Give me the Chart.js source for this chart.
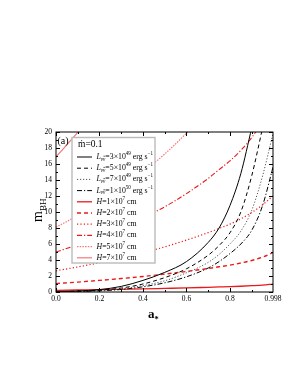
<!DOCTYPE html>
<html><head><meta charset="utf-8">
<script src="https://cdn.jsdelivr.net/npm/chart.js@4"></script>
<style>html,body{margin:0;padding:0;background:#fff}#wrap{width:298px;height:385px;position:relative}</style>
</head><body><div id="wrap"><canvas id="c" width="298" height="385"></canvas></div>
<script>
// ---- data ----
const spin = [0, 0.1, 0.2, 0.3, 0.4, 0.5, 0.6, 0.7, 0.75, 0.8, 0.85, 0.9, 0.95, 0.998];
const L3e49 = [0.05, 0.12, 0.3, 0.7, 1.45, 2.45, 3.8, 6.2, 8.0, 10.8, 14.8, 20.5, null, null];
const L5e49 = [0.04, 0.1, 0.22, 0.5, 1.0, 1.8, 2.9, 4.6, 5.8, 7.4, 10.0, 14.5, 20.5, null];
const L7e49 = [0.03, 0.08, 0.18, 0.4, 0.8, 1.4, 2.4, 3.7, 4.7, 6.0, 7.6, 10.2, 14.5, 19.8];
const L1e50 = [0.02, 0.06, 0.14, 0.32, 0.65, 1.15, 1.9, 3.0, 3.8, 4.8, 6.0, 7.7, 10.8, 15.6];
const H1e7 = [0.21, 0.25, 0.29, 0.34, 0.39, 0.45, 0.51, 0.59, 0.63, 0.67, 0.72, 0.79, 0.87, 0.99];
const H2e7 = [1.05, 1.24, 1.45, 1.68, 1.94, 2.24, 2.57, 2.94, 3.15, 3.36, 3.62, 3.94, 4.36, 4.93];
const H3e7 = [2.65, 3.13, 3.66, 4.24, 4.9, 5.64, 6.49, 7.42, 7.95, 8.48, 9.14, 9.94, 10.9, 12.0];
const H4e7 = [5.0, 5.9, 6.9, 8.0, 9.25, 10.65, 12.3, 14.2, 15.3, 16.4, 17.7, 19.3, 21.3, null];
const H5e7 = [8.1, 9.56, 11.18, 12.96, 14.99, 17.25, 19.85, 22.7, null, null, null, null, null, null];
const H7e7 = [16.9, 19.94, 23.3, null, null, null, null, null, null, null, null, null, null, null];
const xTicks = [0, 0.2, 0.4, 0.6, 0.8, 0.998];
const xTickLabels = ['0.0', '0.2', '0.4', '0.6', '0.8', '0.998'];
const yTicks = [0, 2, 4, 6, 8, 10, 12, 14, 16, 18, 20];
const mdotLabel = 'ṁ=0.1';
const panelLabel = '(a)';

const RED = 'rgb(235,25,25)';
const PINK = 'rgb(245,120,120)';
const series = [
  {v: L3e49, c: '#000', d: [], w: 1, lab: ['3', '49']},
  {v: L5e49, c: '#000', d: [4, 3], w: 1, lab: ['5', '49']},
  {v: L7e49, c: '#555', d: [1.2, 1.8], w: 1, lab: ['7', '49']},
  {v: L1e50, c: '#000', d: [5, 2, 1.2, 2], w: 1, lab: ['1', '50']},
  {v: H1e7, c: RED, d: [], w: 1.3, lab: ['1', '7'], H: true},
  {v: H2e7, c: RED, d: [4, 3], w: 1.4, lab: ['2', '7'], H: true},
  {v: H3e7, c: RED, d: [1.2, 2.2], w: 1.2, lab: ['3', '7'], H: true},
  {v: H4e7, c: RED, d: [5, 2, 1.2, 2], w: 1.1, lab: ['4', '7'], H: true},
  {v: H5e7, c: PINK, d: [1.5, 1.2], w: 1.2, lab: ['5', '7'], H: true},
  {v: H7e7, c: PINK, d: [], w: 1.2, lab: ['7', '7'], H: true}
];

const SERIF = '"Liberation Serif", "DejaVu Serif", serif';

function drawRich(ctx, x, y, parts, base) {
  let cx = x;
  for (const p of parts) {
    const sz = p.s ? base * 0.65 : base;
    ctx.font = (p.i ? 'italic ' : '') + (p.b ? 'bold ' : '') + sz + 'px ' + SERIF;
    const dy = p.s === 'sub' ? base * 0.3 : p.s === 'sup' ? -base * 0.42 : 0;
    ctx.fillText(p.t, cx, y + dy);
    const w = ctx.measureText(p.t).width;
    if (p.ov) {
      const wl = ctx.measureText(p.t.slice(-1)).width;
      ctx.save();
      ctx.lineWidth = 0.6;
      ctx.strokeStyle = ctx.fillStyle;
      ctx.beginPath();
      ctx.moveTo(cx + w - wl + 0.3, y + dy - sz * 0.62);
      ctx.lineTo(cx + w - 0.2, y + dy - sz * 0.62);
      ctx.stroke();
      ctx.restore();
    }
    cx += w;
  }
  return cx - x;
}

const decor = {
  id: 'decor',
  afterDatasetsDraw(chart) {
    const ctx = chart.ctx;
    const a = chart.chartArea;
    const xs = chart.scales.x, ys = chart.scales.y;
    ctx.save();
    // legend box
    const bx = 72, by = 137.5, bw = 83, bh = 125.5;
    ctx.fillStyle = '#fff';
    ctx.fillRect(bx, by, bw, bh);
    ctx.strokeStyle = '#bbb';
    ctx.lineWidth = 1.4;
    ctx.setLineDash([]);
    ctx.strokeRect(bx, by, bw, bh);
    ctx.fillStyle = '#000';
    ctx.textBaseline = 'middle';
    ctx.textAlign = 'left';
    ctx.font = '9.5px ' + SERIF;
    ctx.fillText(mdotLabel, 78, 144.5);
    series.forEach((s, i) => {
      const yc = 157 + i * 11.2;
      ctx.strokeStyle = s.c;
      ctx.lineWidth = s.w;
      ctx.setLineDash(s.d);
      ctx.beginPath();
      ctx.moveTo(77, yc);
      ctx.lineTo(92, yc);
      ctx.stroke();
      ctx.setLineDash([]);
      ctx.fillStyle = '#000';
      let parts;
      if (s.H) {
        parts = [{t: 'H', i: 1}, {t: '=' + s.lab[0] + '×10'}, {t: s.lab[1], s: 'sup'}, {t: ' cm'}];
      } else {
        parts = [{t: 'L', i: 1}, {t: 'νν', s: 'sub', i: 1, ov: 1}, {t: '=' + s.lab[0] + '×10'}, {t: s.lab[1], s: 'sup'}, {t: ' erg s'}, {t: '−1', s: 'sup'}];
      }
      drawRich(ctx, 96.5, yc, parts, 7.8);
    });
    // frame
    ctx.strokeStyle = '#000';
    ctx.lineWidth = 1;
    ctx.setLineDash([]);
    ctx.strokeRect(a.left, a.top, a.right - a.left, a.bottom - a.top);
    // ticks (inward)
    ctx.beginPath();
    for (let v = 0; v <= 20; v += 1) {
      const py = Math.round(ys.getPixelForValue(v)) + 0.5;
      const len = v % 2 === 0 ? 4 : 2;
      ctx.moveTo(a.left, py); ctx.lineTo(a.left + len, py);
      ctx.moveTo(a.right, py); ctx.lineTo(a.right - len, py);
    }
    for (let k = 0; k <= 9; k++) {
      const v = k / 10;
      const px = Math.round(xs.getPixelForValue(v)) + 0.5;
      const len = k % 2 === 0 ? 4 : 2;
      ctx.moveTo(px, a.bottom); ctx.lineTo(px, a.bottom - len);
      ctx.moveTo(px, a.top); ctx.lineTo(px, a.top + len);
    }
    ctx.stroke();
    // panel label
    ctx.fillStyle = '#000';
    ctx.font = '10px ' + SERIF;
    ctx.textBaseline = 'middle';
    ctx.fillText(panelLabel, 57.5, 141);
    // axis titles
    ctx.textBaseline = 'alphabetic';
    drawRich(ctx, 148, 318, [{t: 'a', b: 1}, {t: '*', s: 'sub', b: 1}], 13);
    ctx.save();
    ctx.translate(41.5, 222);
    ctx.rotate(-Math.PI / 2);
    drawRich(ctx, 0, 0, [{t: 'm'}, {t: 'BH', s: 'sub'}], 14);
    ctx.restore();
    ctx.restore();
  }
};

const datasets = series.map(s => ({
  data: spin.map((a, i) => ({x: a, y: s.v[i]})),
  borderColor: s.c,
  borderWidth: s.w,
  borderDash: s.d,
  pointRadius: 0,
  fill: false,
  cubicInterpolationMode: 'monotone',
  spanGaps: false
}));

new Chart(document.getElementById('c'), {
  type: 'line',
  data: {datasets},
  plugins: [decor],
  options: {
    responsive: false,
    animation: false,
    events: [],
    layout: {padding: {left: 36, right: 25, top: 132, bottom: 73}},
    plugins: {legend: {display: false}, tooltip: {enabled: false}},
    scales: {
      x: {
        type: 'linear', min: 0, max: 0.998,
        afterBuildTicks: sc => { sc.ticks = xTicks.map(v => ({value: v})); },
        afterFit: sc => { sc.height = 20; },
        ticks: {
          autoSkip: false, maxRotation: 0, padding: 3, color: '#000',
          font: {family: SERIF, size: 7.5},
          callback: (v) => { const i = xTicks.indexOf(v); return i >= 0 ? xTickLabels[i] : ''; }
        },
        grid: {display: false, drawTicks: false},
        border: {display: false}
      },
      y: {
        type: 'linear', min: 0, max: 20,
        afterBuildTicks: sc => { sc.ticks = yTicks.map(v => ({value: v})); },
        afterFit: sc => { sc.width = 20; },
        ticks: {
          autoSkip: false, padding: 4, color: '#000',
          font: {family: SERIF, size: 7.5}
        },
        grid: {display: false, drawTicks: false},
        border: {display: false}
      }
    }
  }
});
</script>
</body></html>
